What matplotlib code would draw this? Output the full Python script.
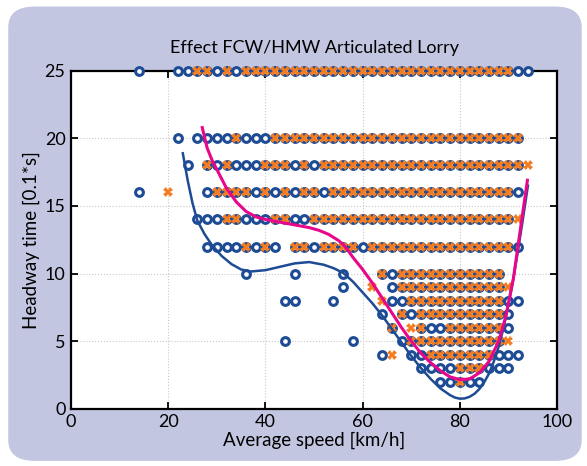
import matplotlib
matplotlib.use("Agg")
import matplotlib.pyplot as plt
from matplotlib.patches import FancyBboxPatch

# speeds [km/h] per headway band: blue circle (o..) and orange cross (x..)
o25 = [14, 22, 24, 26, 28, 30, 32, 34, 36, 38, 40, 42, 44, 46, 48, 50, 52, 54, 56, 58,
       60, 62, 64, 66, 68, 70, 72, 74, 76, 78, 80, 82, 84, 86, 88, 90, 92, 94]
x25 = [26, 28, 32, 36, 38, 40, 42, 44, 46, 48, 50, 52, 54, 56, 58, 60, 62, 64, 66, 68,
       70, 72, 74, 76, 78, 80, 82, 84, 86, 88, 90]
o20 = [22, 26, 28, 30, 32, 34, 36, 38, 40, 42, 44, 46, 48, 50, 52, 54, 56, 58, 60, 62,
       64, 66, 68, 70, 72, 74, 76, 78, 80, 82, 84, 86, 88, 90, 92]
x20 = [34, 42, 44, 46, 48, 50, 52, 54, 56, 58, 60, 62, 64, 66, 68, 70, 72, 74, 76, 78,
       80, 82, 84, 86, 88, 90, 92]
o18 = [24, 28, 30, 32, 34, 36, 38, 40, 42, 44, 46, 48, 50, 52, 54, 56, 58, 60, 62, 64,
       66, 68, 70, 72, 74, 76, 78, 80, 82, 84, 86, 88, 90, 92]
x18 = [28, 32, 40, 42, 44, 48, 52, 54, 56, 58, 60, 62, 64, 66, 68, 70, 72, 74, 76, 78,
       80, 82, 84, 86, 88, 90, 92, 94]
o16 = [14, 28, 30, 32, 34, 36, 38, 40, 42, 44, 46, 48, 50, 52, 54, 56, 58, 60, 62, 64,
       66, 68, 70, 72, 74, 76, 78, 80, 82, 84, 86, 88, 90, 92]
x16 = [20, 30, 32, 34, 36, 40, 44, 48, 50, 54, 56, 58, 60, 62, 64, 66, 68, 70, 72, 74,
       76, 78, 80, 82, 84, 86, 88, 90]
o14 = [26, 28, 30, 32, 34, 36, 38, 40, 42, 44, 46, 48, 50, 52, 54, 56, 58, 60, 62, 64,
       66, 68, 70, 72, 74, 76, 78, 80, 82, 84, 86, 88, 90]
x14 = [32, 34, 42, 44, 50, 52, 54, 56, 58, 60, 62, 64, 66, 68, 70, 72, 74, 76, 78, 80,
       82, 84, 86, 88, 90, 92]
o12 = [28, 30, 32, 34, 36, 38, 40, 42, 46, 48, 50, 52, 54, 56, 58, 60, 62, 64, 66, 68,
       70, 72, 74, 76, 78, 80, 82, 84, 86, 88, 90, 92]
x12 = [36, 40, 46, 48, 52, 54, 56, 58, 62, 64, 66, 68, 70, 72, 74, 76, 78, 80, 82, 84,
       86, 88, 90]
o10 = [36, 46, 56, 64, 66, 68, 70, 72, 74, 76, 78, 80, 82, 84, 86, 88]
x10 = [64, 68, 70, 72, 74, 76, 78, 80, 82, 84, 86, 88]
o9 = [56, 66, 68, 70, 72, 74, 76, 78, 80, 82, 84, 86, 88]
x9 = [62, 68, 70, 72, 74, 76, 78, 80, 82, 84, 86, 88, 90]
o8 = [44, 46, 54, 66, 68, 70, 72, 74, 76, 78, 80, 82, 84, 86, 88, 90, 92]
x8 = [64, 70, 72, 74, 76, 78, 80, 82, 84, 86, 88]
o7 = [64, 68, 70, 72, 74, 76, 78, 80, 82, 84, 86, 88, 90]
x7 = [68, 72, 74, 76, 78, 80, 82, 84, 86, 88]
o6 = [66, 72, 74, 76, 78, 80, 82, 84, 86, 88, 90]
x6 = [66, 70, 72, 78, 80, 82, 84, 86, 88]
o5 = [44, 58, 68, 70, 72, 74, 76, 78, 80, 82, 84, 86, 88]
x5 = [70, 72, 74, 76, 78, 80, 82, 84, 86, 88, 90]
o4 = [64, 70, 72, 74, 76, 78, 80, 82, 84, 86, 88, 90, 92]
x4 = [66, 74, 76, 78, 80, 82, 84, 86]
o3 = [72, 74, 76, 78, 80, 82, 84, 86, 88, 90]
x3 = [80, 82, 84]
o2 = [76, 78, 80, 82, 84]
x2 = [80]

# fitted trend lines
blue_speed = [23, 24, 25, 26, 27.5, 29, 31, 33, 35, 37, 40, 43, 46, 49, 52, 54, 56,
              58, 60, 62, 64, 66, 68, 70, 72, 74, 76, 78, 79, 80, 81, 82, 83, 84, 85,
              86, 87, 88, 89, 90, 91, 92, 93, 94]
blue_head = [18.9, 16.9, 15.2, 13.9, 12.9, 12.1, 11.3, 10.7, 10.3, 10.15, 10.25, 10.5,
             10.75, 10.85, 10.65, 10.4, 10.05, 9.4, 8.6, 7.8, 6.9, 5.9, 4.9, 3.9, 3.0,
             2.2, 1.5, 1.0, 0.82, 0.74, 0.76, 0.88, 1.1, 1.45, 1.95, 2.6, 3.5, 4.6,
             6.0, 7.7, 9.6, 11.8, 14.1, 16.5]
pink_speed = [27, 28, 29, 30, 32, 34, 36, 38, 40, 43, 46, 49, 51, 53, 55, 56, 57, 58,
              60, 62, 64, 66, 68, 70, 72, 74, 76, 78, 80, 82, 84, 86, 88, 89.5, 91,
              92.5, 93.9]
pink_head = [20.8, 19.3, 18.4, 17.7, 16.3, 15.3, 14.6, 14.2, 14.0, 13.8, 13.6, 13.4,
             13.2, 12.9, 12.45, 12.15, 11.7, 11.2, 10.3, 9.3, 8.2, 7.1, 6.0, 5.0, 4.1,
             3.4, 2.8, 2.35, 2.15, 2.2, 2.65, 3.5, 5.0, 6.9, 9.6, 13.4, 16.9]

bands = [(25, o25, x25), (20, o20, x20), (18, o18, x18), (16, o16, x16),
         (14, o14, x14), (12, o12, x12), (10, o10, x10), (9, o9, x9), (8, o8, x8),
         (7, o7, x7), (6, o6, x6), (5, o5, x5), (4, o4, x4), (3, o3, x3), (2, o2, x2)]

blue = '#1d4b94'
orange = '#f47c20'
pink = '#e8078a'

plt.rcParams['font.family'] = ['Lato', 'DejaVu Sans']

fig = plt.figure(figsize=(5.87, 4.66), dpi=100)
fig.patch.set_facecolor('white')
fig.patches.append(FancyBboxPatch((0.014, 0.011), 0.977, 0.975,
                                  boxstyle='round,pad=0,rounding_size=0.045',
                                  transform=fig.transFigure, facecolor='#c3c6e1',
                                  edgecolor='none', zorder=-5))

ax = fig.add_axes([0.121, 0.123, 0.828, 0.725])
ax.set_zorder(2)
ax.set_facecolor('white')

for h, spd_o, spd_x in bands:
    ax.plot(spd_o, [h] * len(spd_o), 'o', ms=5.6, mew=2.2, mec=blue, mfc='white',
            clip_on=False, zorder=3)
    ax.plot(spd_x, [h] * len(spd_x), 'X', ms=6.6, mew=0, color=orange,
            clip_on=False, zorder=4)

ax.plot(blue_speed, blue_head, color=blue, lw=1.8, zorder=5)
ax.plot(pink_speed, pink_head, color=pink, lw=2.2, zorder=6)

ax.set_xlim(0, 100)
ax.set_ylim(0, 25)
ax.set_xticks([0, 20, 40, 60, 80, 100])
ax.set_yticks([0, 5, 10, 15, 20, 25])
ax.grid(True, color='#c8c8c8', linestyle=':', linewidth=0.8)
ax.set_axisbelow(True)
ax.tick_params(direction='in', top=True, right=True, length=5, width=1.3,
               labelsize=13, colors='black', pad=4)
for s in ax.spines.values():
    s.set_linewidth(1.6)

ax.set_title('Effect FCW/HMW Articulated Lorry', fontsize=13, pad=13)
ax.set_xlabel('Average speed [km/h]', fontsize=13.5, labelpad=1)
ax.set_ylabel('Headway time [0.1*s]', fontsize=13.5, labelpad=3)

fig.savefig('out.png', dpi=100, facecolor=fig.get_facecolor())
